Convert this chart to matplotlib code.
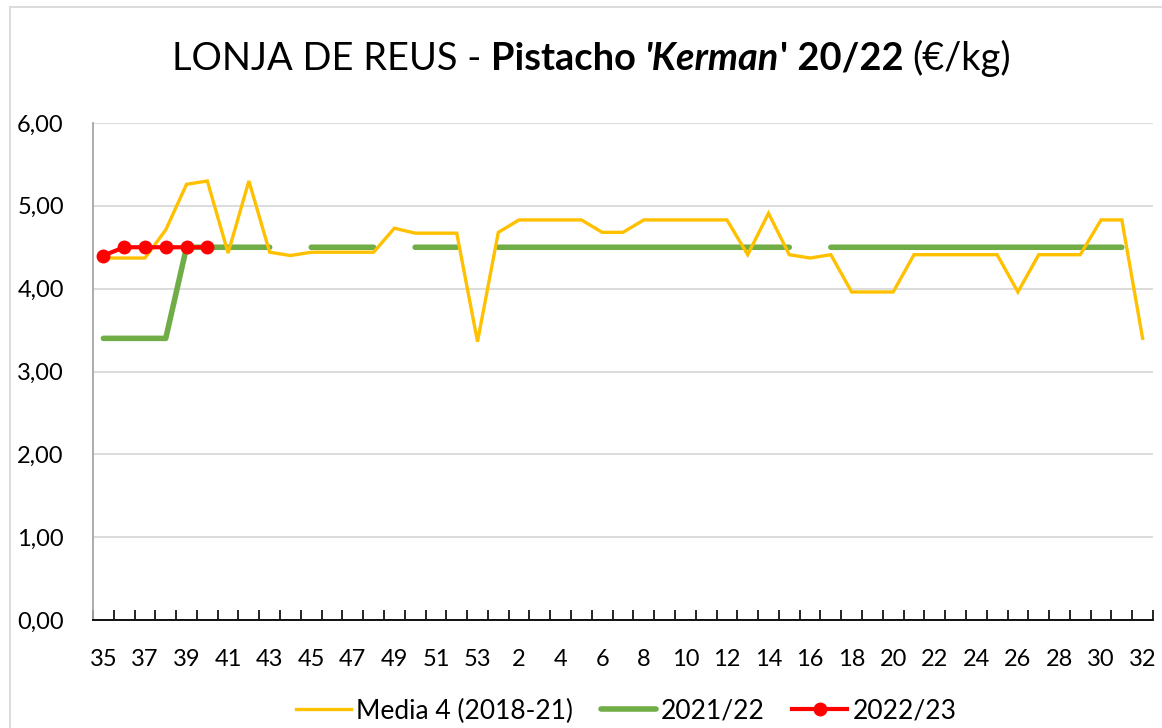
import numpy as np
import matplotlib
matplotlib.use("Agg")
import matplotlib.pyplot as plt
from matplotlib.ticker import FuncFormatter

plt.rcParams['font.family'] = ['Lato', 'DejaVu Sans']

# Marketing weeks: 35..53 of one year, then 1..32 of the next
weeks = list(range(35, 54)) + list(range(1, 33))

media_4 = [4.37, 4.37, 4.37, 4.71, 5.26, 5.30, 4.43, 5.30, 4.44, 4.40,
           4.44, 4.44, 4.44, 4.44, 4.73, 4.67, 4.67, 4.67, 3.36, 4.68,
           4.83, 4.83, 4.83, 4.83, 4.68, 4.68, 4.83, 4.83, 4.83, 4.83,
           4.83, 4.41, 4.91, 4.41, 4.37, 4.41, 3.96, 3.96, 3.96, 4.41,
           4.41, 4.41, 4.41, 4.41, 3.96, 4.41, 4.41, 4.41, 4.83, 4.83,
           3.40]

nan = np.nan
s2021_22 = [3.40, 3.40, 3.40, 3.40, 4.50, 4.50, 4.50, 4.50, 4.50, nan,
            4.50, 4.50, 4.50, 4.50, nan, 4.50, 4.50, 4.50, nan, 4.50,
            4.50, 4.50, 4.50, 4.50, 4.50, 4.50, 4.50, 4.50, 4.50, 4.50,
            4.50, 4.50, 4.50, 4.50, nan, 4.50, 4.50, 4.50, 4.50, 4.50,
            4.50, 4.50, 4.50, 4.50, 4.50, 4.50, 4.50, 4.50, 4.50, 4.50,
            nan]

s2022_23 = [4.40, 4.50, 4.50, 4.50, 4.50, 4.50]

yticks = [0, 1, 2, 3, 4, 5, 6]

fig = plt.figure(figsize=(11.62, 7.28), dpi=100)
ax = fig.add_axes([93 / 1162, 108 / 728, 1060 / 1162, 497 / 728])

x = np.arange(len(weeks))
ax.plot(x, media_4, color='#FFC000', lw=2.4, label='Media 4 (2018-21)', zorder=3,
        solid_joinstyle='miter')
ax.plot(x, s2021_22, color='#70AD47', lw=4.0, label='2021/22', zorder=2,
        solid_capstyle='round')
ax.plot(x[:len(s2022_23)], s2022_23, color='#FF0000', lw=3, marker='o', ms=9,
        label='2022/23', zorder=4)

ax.set_xlim(-0.5, len(weeks) - 0.5)
ax.set_ylim(0, 6)
ax.set_yticks(yticks)
ax.yaxis.set_major_formatter(FuncFormatter(lambda v, p: f"{v:.2f}".replace('.', ',')))
ax.grid(axis='y', color='#D9D9D9', lw=1.3)
ax.set_axisbelow(True)

# Category labels on every second week, tick marks on category boundaries
ax.set_xticks(x[::2])
ax.set_xticklabels([str(w) for w in weeks[::2]])
ax.set_xticks(np.arange(len(weeks) + 1) - 0.5, minor=True)
ax.tick_params(axis='x', which='major', length=0, pad=21, labelsize=17)
ax.tick_params(axis='x', which='minor', direction='in', length=7, width=1.2,
               color='#000000')
ax.tick_params(axis='y', length=0, pad=21, labelsize=17)

for side in ('top', 'right'):
    ax.spines[side].set_visible(False)
ax.spines['left'].set_color('#A6A6A6')
ax.spines['left'].set_linewidth(1.3)
ax.spines['bottom'].set_color('#000000')
ax.spines['bottom'].set_linewidth(1.3)

leg = fig.legend(loc='center', bbox_to_anchor=(626 / 1162, 17 / 728), ncol=3,
                 frameon=False, fontsize=19, handlelength=2.08,
                 handletextpad=0.19, columnspacing=1.06, borderpad=0,
                 borderaxespad=0)

# Outer chart border
fig.add_artist(plt.Line2D([10 / 1162, 10 / 1162], [0, 1 - 7 / 728],
                          transform=fig.transFigure, color='#D9D9D9', lw=1.3))
fig.add_artist(plt.Line2D([10 / 1162, 1], [1 - 7 / 728, 1 - 7 / 728],
                          transform=fig.transFigure, color='#D9D9D9', lw=1.3))

# Title built from pieces with mixed weights and styles
pieces = [("LONJA DE REUS - ", 'normal', 'normal'),
          ("Pistacho ", 'bold', 'normal'),
          ("'Kerman", 'bold', 'italic'),
          ("' 20/22 ", 'bold', 'normal'),
          ("(€/kg)", 'normal', 'normal')]
title_size = 27.4
title_y = 1 - 70 / 728
texts = [fig.text(0, title_y, s, fontsize=title_size, fontweight=w, fontstyle=st,
                  ha='left', va='baseline') for s, w, st in pieces]
fig.canvas.draw()
renderer = fig.canvas.get_renderer()
widths = [t.get_window_extent(renderer).width for t in texts]
total = sum(widths)
cx = 591.5
pos = cx - total / 2
for t, wd in zip(texts, widths):
    t.set_x(pos / 1162)
    pos += wd

fig.savefig('out.png', dpi=100, facecolor='white')
